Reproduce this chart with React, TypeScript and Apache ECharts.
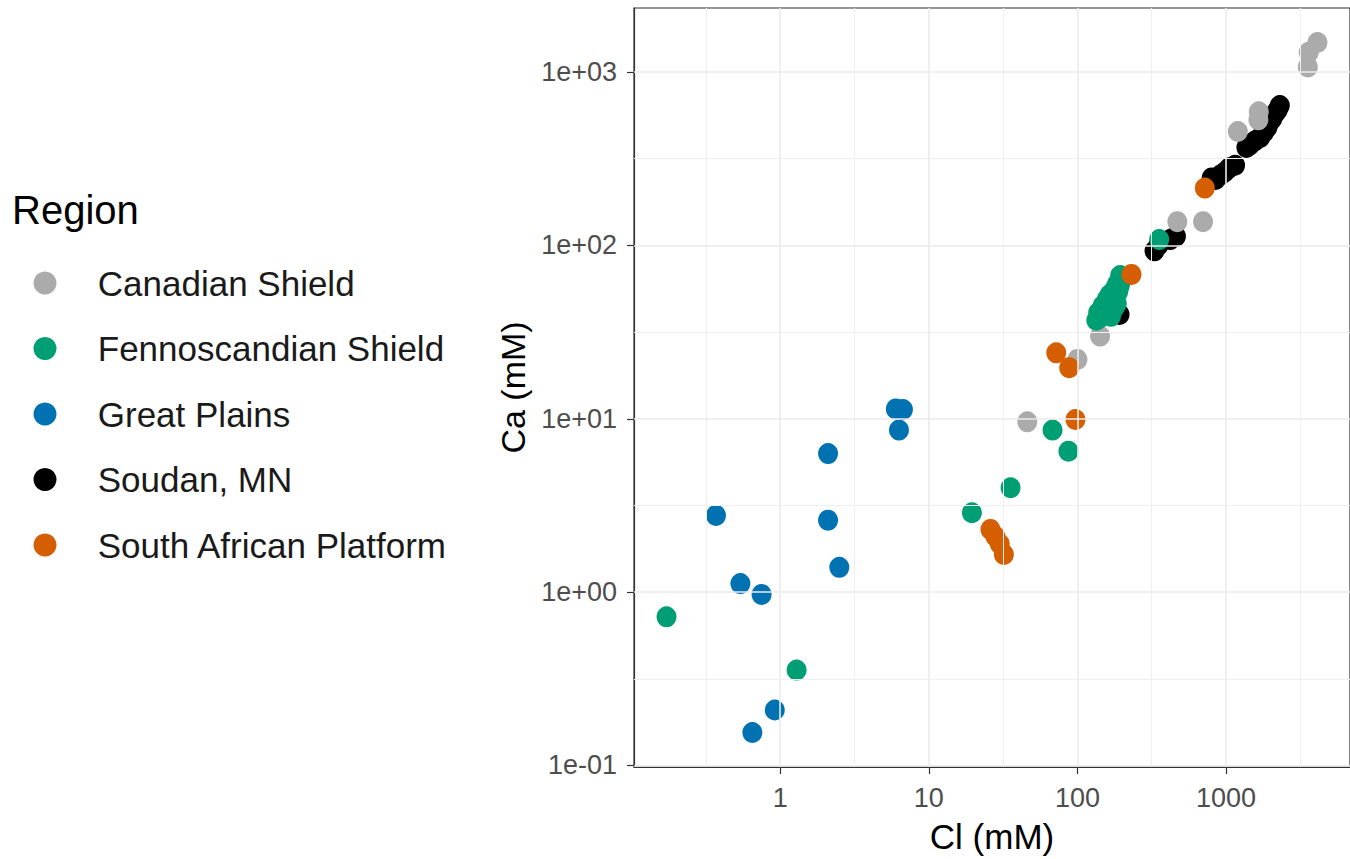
import React, { useEffect, useRef } from "react";
import * as echarts from "echarts";

// Region names (legend order)
const regions = [
  "Canadian Shield",
  "Fennoscandian Shield",
  "Great Plains",
  "Soudan, MN",
  "South African Platform",
];

const regionColors = ["#ABABAB", "#009E73", "#0072B2", "#000000", "#D55E00"];

// Cl and Ca concentrations (mM) per region
const canadianCl = [4120, 3600, 3550, 1660, 1650, 1200, 700, 470, 142, 100, 46];
const canadianCa = [1480, 1300, 1070, 590, 530, 454, 137, 137, 30, 22, 9.6];

const fennoCl = [
  0.172, 1.29, 19.5, 35.5, 68, 87, 355,
  134, 140, 146, 138, 150, 156, 148, 162, 170, 158, 175, 182, 165, 188, 178, 192, 185, 196, 200, 194,
  172, 184, 168, 178,
];
const fennoCa = [
  0.72, 0.355, 2.87, 4.0, 8.6, 6.5, 108,
  37, 38, 40, 41, 42, 44, 45, 46, 47, 49, 50, 51, 52, 54, 56, 58, 60, 62, 65, 67,
  42, 46, 39, 44,
];

const plainsCl = [0.37, 0.54, 0.75, 0.92, 0.65, 2.1, 2.1, 2.5, 6.0, 6.7, 6.3];
const plainsCa = [2.77, 1.12, 0.97, 0.209, 0.155, 6.3, 2.6, 1.39, 11.4, 11.3, 8.6];

const soudanCl = [
  2300, 2230, 2150, 2050, 1980, 1900, 1800, 1700, 1560, 1450, 1370,
  1150, 1050, 980, 920, 850, 800, 460, 420, 350, 330, 192,
];
const soudanCa = [
  640, 605, 580, 540, 520, 480, 450, 420, 400, 380, 367,
  290, 280, 265, 255, 240, 245, 113, 108, 100, 93, 40,
];

const africaCl = [720, 231, 72, 88, 97, 26, 28, 30, 32];
const africaCa = [214, 68, 24, 19.7, 9.9, 2.3, 2.1, 1.9, 1.65];

// Axis ticks (log10 positions) and their labels
const xTickValues = [0, 1, 2, 3];
const xTickLabels = ["1", "10", "100", "1000"];
const yTickValues = [-1, 0, 1, 2, 3];
const yTickLabels = ["1e-01", "1e+00", "1e+01", "1e+02", "1e+03"];
const xMinorValues = [-0.5, 0.5, 1.5, 2.5, 3.5];
const yMinorValues = [-0.5, 0.5, 1.5, 2.5];

const FONT = "'Liberation Sans', Arial, Helvetica, sans-serif";

function toLogPairs(xs: number[], ys: number[]) {
  return xs.map((x, i) => [Math.log10(x), Math.log10(ys[i])]);
}

// 5% expansion of the log range, like ggplot's continuous scale
function expandedRange(vals: number[]) {
  const lo = Math.min(...vals);
  const hi = Math.max(...vals);
  const pad = (hi - lo) * 0.05;
  return [lo - pad, hi + pad];
}

export default function App() {
  const ref = useRef<HTMLDivElement>(null);

  useEffect(() => {
    if (!ref.current) return;
    const chart = echarts.init(ref.current, undefined, { renderer: "svg" });

    const seriesData: Record<string, number[][]> = {
      "Canadian Shield": toLogPairs(canadianCl, canadianCa),
      "Fennoscandian Shield": toLogPairs(fennoCl, fennoCa),
      "Great Plains": toLogPairs(plainsCl, plainsCa),
      "Soudan, MN": toLogPairs(soudanCl, soudanCa),
      "South African Platform": toLogPairs(africaCl, africaCa),
    };

    const all = Object.values(seriesData).flat();
    const [xMin, xMax] = expandedRange(all.map((p) => p[0]));
    const [yMin, yMax] = expandedRange(all.map((p) => p[1]));

    // drawing order: black underneath, orange on top
    const drawOrder = [
      "Soudan, MN",
      "Canadian Shield",
      "Great Plains",
      "Fennoscandian Shield",
      "South African Platform",
    ];

    const majorGrid = { color: "#EBEBEB", width: 1.6, type: "solid" };
    const minorGrid = { color: "#EFEFEF", width: 1.0, type: "solid" };

    const gridSeries: any = {
      type: "line",
      name: "grid",
      data: [],
      z: 1,
      silent: true,
      markLine: {
        silent: true,
        symbol: "none",
        label: { show: false },
        animation: false,
        data: [
          ...xMinorValues.map((v) => ({ xAxis: v, lineStyle: minorGrid })),
          ...yMinorValues.map((v) => ({ yAxis: v, lineStyle: minorGrid })),
          ...xTickValues.map((v) => ({ xAxis: v, lineStyle: majorGrid })),
          ...yTickValues.map((v) => ({ yAxis: v, lineStyle: majorGrid })),
        ],
      },
    };

    const scatterSeries = drawOrder.map((name) => ({
      type: "scatter",
      name,
      data: seriesData[name],
      symbol: "circle",
      symbolSize: [20, 21],
      z: 2,
      itemStyle: {
        color: regionColors[regions.indexOf(name)],
        opacity: 1,
        borderWidth: 0,
      },
      emphasis: { disabled: true },
    }));

    chart.setOption({
      animation: false,
      backgroundColor: "#FFFFFF",
      textStyle: { fontFamily: FONT },
      grid: {
        left: 634,
        top: 8,
        width: 725,
        height: 764,
        show: true,
        borderColor: "#333333",
        borderWidth: 1.2,
        backgroundColor: "#FFFFFF",
      },
      xAxis: {
        type: "value",
        min: xMin,
        max: xMax,
        name: "Cl (mM)",
        nameLocation: "middle",
        nameGap: 52,
        nameTextStyle: { fontSize: 35, color: "#000000", fontFamily: FONT },
        splitLine: { show: false },
        axisLine: { show: true, onZero: false, lineStyle: { color: "#333333", width: 1.2 } },
        axisTick: {
          show: true,
          customValues: xTickValues,
          length: 7,
          lineStyle: { color: "#333333", width: 1.2 },
        },
        axisLabel: {
          customValues: xTickValues,
          margin: 17,
          fontSize: 27,
          color: "#4D4D4D",
          fontFamily: FONT,
          formatter: (v: number) => xTickLabels[xTickValues.indexOf(Math.round(v))] ?? "",
        },
      },
      yAxis: {
        type: "value",
        min: yMin,
        max: yMax,
        name: "Ca (mM)",
        nameLocation: "middle",
        nameGap: 103,
        nameRotate: 90,
        nameTextStyle: { fontSize: 34, color: "#000000", fontFamily: FONT },
        splitLine: { show: false },
        axisLine: { show: true, onZero: false, lineStyle: { color: "#333333", width: 1.2 } },
        axisTick: {
          show: true,
          customValues: yTickValues,
          length: 7,
          lineStyle: { color: "#333333", width: 1.2 },
        },
        axisLabel: {
          customValues: yTickValues,
          margin: 17,
          fontSize: 27,
          color: "#4D4D4D",
          fontFamily: FONT,
          formatter: (v: number) => yTickLabels[yTickValues.indexOf(Math.round(v))] ?? "",
        },
      },
      legend: {
        data: regions.map((name) => ({ name, icon: "circle" })),
        orient: "vertical",
        left: 33.5,
        top: 263,
        padding: 0,
        itemWidth: 59.5,
        itemHeight: 23,
        itemGap: 25.5,
        selectedMode: false,
        textStyle: {
          fontSize: 35,
          color: "#1A1A1A",
          fontFamily: FONT,
          lineHeight: 40,
          padding: [0, 0, 0, 18],
        },
      },
      graphic: [
        {
          type: "text",
          left: 12,
          top: 190,
          style: {
            text: "Region",
            fontSize: 40,
            fill: "#000000",
            fontFamily: FONT,
          },
        },
      ],
      series: [gridSeries, ...scatterSeries],
    });

    return () => chart.dispose();
  }, []);

  return (
    <div
      ref={ref}
      style={{ position: "absolute", left: 0, top: 0, width: 1350, height: 859 }}
    />
  );
}
